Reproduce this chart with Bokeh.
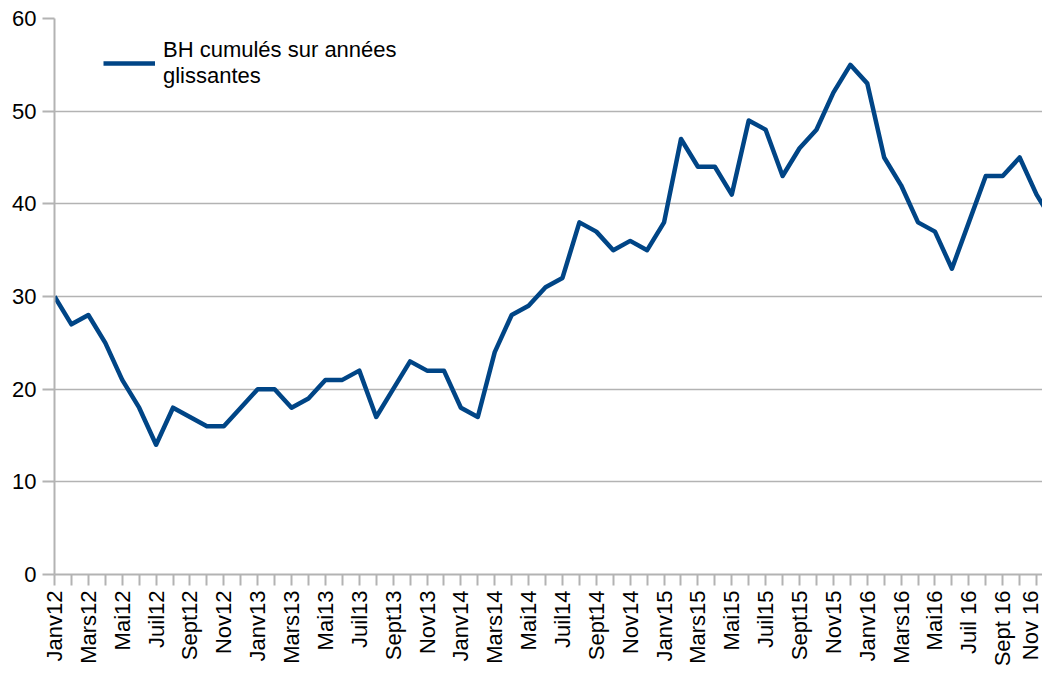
from bokeh.plotting import figure
from bokeh.models import FixedTicker, Legend, LegendItem, ColumnDataSource, Range1d
from bokeh.embed import file_html
from bokeh.resources import INLINE

months = [
    "Janv12", "Févr12", "Mars12", "Avr12", "Mai12", "Juin12", "Juil12", "Août12", "Sept12", "Oct12", "Nov12", "Déc12",
    "Janv13", "Févr13", "Mars13", "Avr13", "Mai13", "Juin13", "Juil13", "Août13", "Sept13", "Oct13", "Nov13", "Déc13",
    "Janv14", "Févr14", "Mars14", "Avr14", "Mai14", "Juin14", "Juil14", "Août14", "Sept14", "Oct14", "Nov14", "Déc14",
    "Janv15", "Févr15", "Mars15", "Avr15", "Mai15", "Juin15", "Juil15", "Août15", "Sept15", "Oct15", "Nov15", "Déc15",
    "Janv16", "Févr16", "Mars16", "Avr16", "Mai16", "Juin16", "Juil 16", "Août 16", "Sept 16", "Oct 16", "Nov 16", "Déc 16",
]
values = [
    30, 27, 28, 25, 21, 18, 14, 18, 17, 16, 16, 18,
    20, 20, 18, 19, 21, 21, 22, 17, 20, 23, 22, 22,
    18, 17, 24, 28, 29, 31, 32, 38, 37, 35, 36, 35,
    38, 47, 44, 44, 41, 49, 48, 43, 46, 48, 52, 55,
    53, 45, 42, 38, 37, 33, 38, 43, 43, 45, 41, 38,
]
series_name = "BH cumulés sur années\nglissantes"
y_ticks = [0, 10, 20, 30, 40, 50, 60]

x = list(range(len(months)))
src = ColumnDataSource(dict(x=x, y=values))

GRAY = "#b3b3b3"
FONT = "Liberation Sans"

p = figure(frame_width=988, frame_height=556, output_backend="svg", toolbar_location=None,
           x_range=Range1d(0, 58.35), y_range=Range1d(0, 60),
           min_border_left=54, min_border_top=18, min_border_right=0, min_border_bottom=0)
p.outline_line_color = None
p.background_fill_color = "white"
p.border_fill_color = "white"

r = p.line("x", "y", source=src, line_color="#004586", line_width=4.5, line_join="round")

p.xgrid.visible = False
p.ygrid.grid_line_color = GRAY
p.ygrid.grid_line_width = 1.5
p.ygrid.ticker = FixedTicker(ticks=y_ticks)

xa = p.xaxis[0]
xa.ticker = FixedTicker(ticks=x[::2], minor_ticks=x[1::2])
xa.major_label_overrides = {i: months[i] for i in x[::2]}
xa.major_label_orientation = 3.14159265 / 2

ya = p.yaxis[0]
ya.ticker = FixedTicker(ticks=y_ticks, minor_ticks=[])

for ax in (xa, ya):
    ax.axis_line_color = GRAY
    ax.axis_line_width = 2
    ax.major_tick_line_color = GRAY
    ax.major_tick_line_width = 2
    ax.minor_tick_line_color = GRAY
    ax.minor_tick_line_width = 2
    ax.major_tick_in = 0
    ax.minor_tick_in = 0
    ax.major_label_text_font = FONT
    ax.major_label_text_color = "black"
xa.major_tick_out = 11
xa.minor_tick_out = 11
xa.major_label_standoff = 5
ya.major_tick_out = 12
ya.major_label_standoff = 6
xa.major_label_text_font_size = "22px"
ya.major_label_text_font_size = "22px"

legend = Legend(items=[LegendItem(label=series_name, renderers=[r])],
                location=(49, 485), border_line_color=None, background_fill_alpha=0,
                glyph_width=52, label_standoff=8, padding=8, margin=0,
                label_text_font=FONT, label_text_font_size="22px", label_text_color="black")
p.add_layout(legend)

open("out.html", "w").write(file_html(p, INLINE))
